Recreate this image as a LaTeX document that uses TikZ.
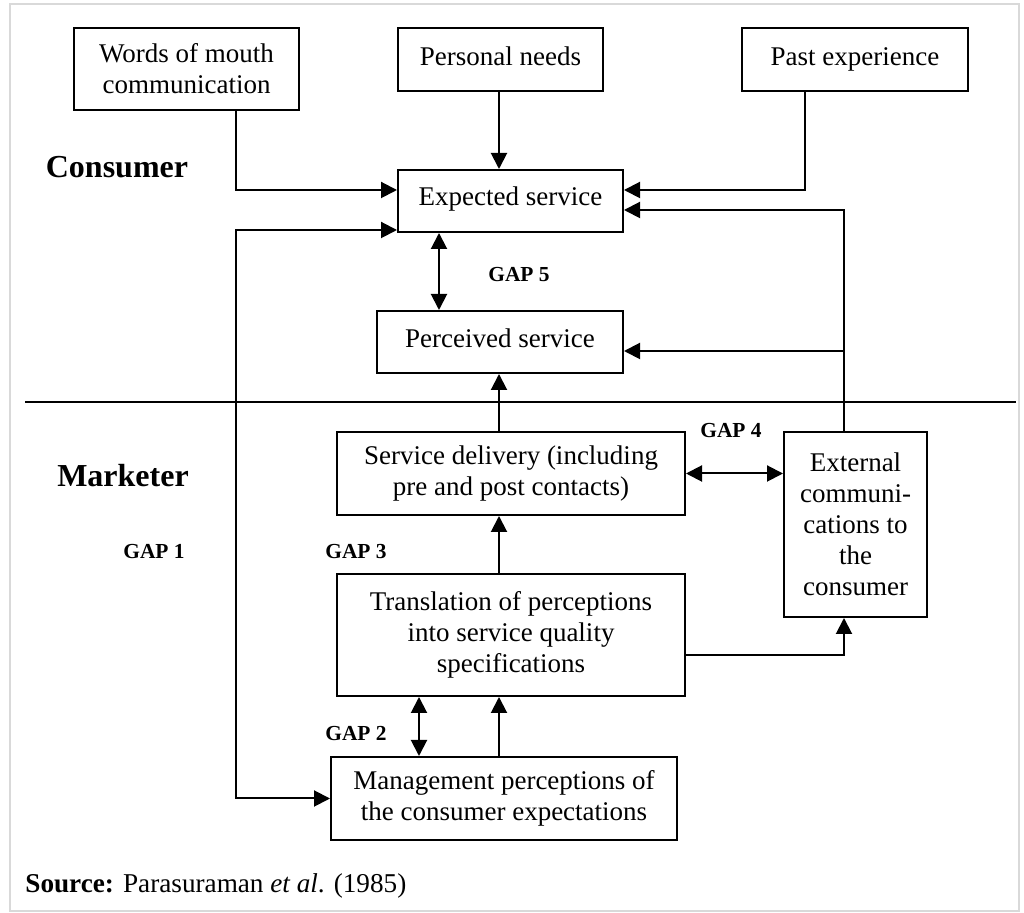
\documentclass[tikz,border=0pt]{standalone}
\usepackage{fontspec}
\setmainfont{Liberation Serif}
\usetikzlibrary{arrows.meta}
\begin{document}
\begin{tikzpicture}[x=0.5pt,y=-0.5pt,
  box/.style={draw,line width=1pt,inner sep=0pt,align=center,font=\fontsize{13.5}{15.5}\selectfont},
  conn/.style={line width=1pt},
  arr/.style={conn,-{Triangle[length=8pt,width=8pt]}},
  darr/.style={conn,{Triangle[length=8pt,width=8pt]}-{Triangle[length=8pt,width=8pt]}},
  gaplbl/.style={font=\fontsize{10.7}{12}\selectfont\bfseries},
  sidelbl/.style={font=\fontsize{16}{18}\selectfont\bfseries}]
\useasboundingbox (0,0) rectangle (1024,913);
\draw[gray!30,line width=1pt] (10,4) rectangle (1019,911);
% nodes
\node[box,minimum width=112.5pt,minimum height=41pt] (wom) at (186.5,69) {Words of mouth\\communication};
\node[box,minimum width=102.5pt,minimum height=31.5pt,text depth=3pt] (pn) at (500.5,59.5) {Personal needs};
\node[box,minimum width=113pt,minimum height=31.5pt] (pe) at (855,59.5) {Past experience};
\node[box,minimum width=112.5pt,minimum height=31pt,text depth=5pt] (es) at (510.5,201) {Expected service};
\node[box,minimum width=123pt,minimum height=31pt,text depth=4pt] (ps) at (500,342) {Perceived service};
\node[box,minimum width=174pt,minimum height=41.5pt] (sd) at (511,473.5) {Service delivery (including\\pre and post contacts)};
\node[box,minimum width=71.5pt,minimum height=92.5pt] (ec) at (855.5,524.5) {External\\communi-\\cations to\\the\\consumer};
\node[box,minimum width=174pt,minimum height=61pt] (tr) at (511,635) {Translation of perceptions\\into service quality\\specifications};
\node[box,minimum width=173pt,minimum height=41.5pt] (mp) at (504,798.5) {Management perceptions of\\the consumer expectations};
% labels
\node[sidelbl] (cons) at (117,167) {Consumer};
\node[sidelbl] (mark) at (123,476) {Marketer};
\node[gaplbl] (g5) at (519,275) {GAP 5};
\node[gaplbl] (g4) at (731,431) {GAP 4};
\node[gaplbl] (g1) at (154,552) {GAP 1};
\node[gaplbl] (g3) at (356,552) {GAP 3};
\node[gaplbl] (g2) at (356,734) {GAP 2};
\node[anchor=west,inner sep=0pt,font=\fontsize{13.6}{16}\selectfont] (src) at (25,886) {\textbf{Source:} Parasuraman \textit{et al}. (1985)};
% divider
\draw[conn] (25,402) -- (1016,402);
% helper coordinates
\coordinate (a1) at (236,190);
\coordinate (a2) at (805,190);
\coordinate (a3) at (844,210);
\coordinate (a4) at (844,351);
\coordinate (a5) at (439,0);
\coordinate (a6) at (499,0);
\coordinate (a7) at (844,655);
\coordinate (a8) at (419,0);
\coordinate (a9) at (236,230);
% connectors
\draw[arr] (wom.south -| a1) |- (es.west |- a1);
\draw[arr] (pn.south -| a6) -- (es.north -| a6);
\draw[arr] (pe.south -| a2) |- (es.east |- a2);
\draw[arr] (ec.north -| a3) |- (es.east |- a3);
\draw[arr] (a4) -- (ps.east |- a4);
\draw[darr] (es.south -| a5) -- (ps.north -| a5);
\draw[arr] (sd.north -| a6) -- (ps.south -| a6);
\draw[darr] (sd.east) -- (sd.east -| ec.west);
\draw[arr] (tr.north -| a6) -- (sd.south -| a6);
\draw[arr] (tr.east |- a7) -| (ec.south -| a7);
\draw[darr] (mp.north -| a8) -- (tr.south -| a8);
\draw[arr] (mp.north -| a6) -- (tr.south -| a6);
\draw[darr] (mp.west) -| (a9) -- (es.west |- a9);
\end{tikzpicture}
\end{document}
